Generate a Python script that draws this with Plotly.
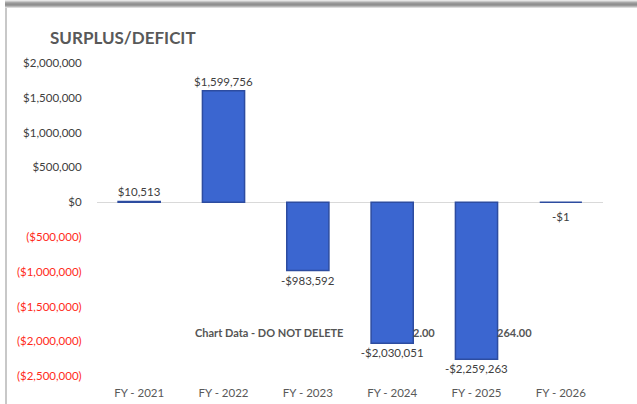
import plotly.graph_objects as go

# chart data
years = ["FY - 2021", "FY - 2022", "FY - 2023", "FY - 2024", "FY - 2025", "FY - 2026"]
surplus = [10513, 1599756, -983592, -2030051, -2259263, -1]
labels = ["$10,513", "$1,599,756", "-$983,592", "-$2,030,051", "-$2,259,263", "-$1"]

tick_vals = [2000000, 1500000, 1000000, 500000, 0, -500000, -1000000, -1500000, -2000000, -2500000]
tick_text = ["$2,000,000", "$1,500,000", "$1,000,000", "$500,000", "$0",
             "($500,000)", "($1,000,000)", "($1,500,000)", "($2,000,000)", "($2,500,000)"]

W, H = 637, 404
L, R, T, B = 97, 34, 50, 24
PW, PH = W - L - R, H - T - B


def px_x(px):
    return (px - L) / PW


def px_y(py):
    return (H - B - py) / PH


tick_colored = []
for v, t in zip(tick_vals, tick_text):
    if v < 0:
        tick_colored.append("<span style='color:#ff2a1a'>%s</span>" % t)
    else:
        tick_colored.append(t)

# the -$1 bar has no height, so plotly would put its label above the axis;
# label that one with an annotation below the zero line instead
bar_text = labels[:-1] + [""]

fig = go.Figure()
fig.add_trace(
    go.Bar(
        x=years,
        y=surplus,
        text=bar_text,
        textposition="outside",
        constraintext="none",
        cliponaxis=False,
        textfont=dict(size=11.5, color="#404040"),
        marker=dict(color="#3b66d0", line=dict(color="#2d4ca0", width=1.5)),
        width=0.5,
    )
)
fig.add_annotation(x=years[-1], y=surplus[-1], text=labels[-1], showarrow=False,
                   yshift=-14, font=dict(size=11.5, color="#404040"))

fig.update_yaxes(
    range=[-2557000, 2187000],
    tickvals=tick_vals,
    ticktext=tick_colored,
    showgrid=False,
    zeroline=True,
    zerolinecolor="#d9d9d9",
    zerolinewidth=1,
    ticks="outside",
    ticklen=12,
    tickcolor="rgba(0,0,0,0)",
    tickfont=dict(size=11.5, color="#404040"),
    automargin=False,
)
fig.update_xaxes(
    showgrid=False,
    showline=False,
    ticks="outside",
    ticklen=2,
    tickcolor="rgba(0,0,0,0)",
    tickfont=dict(size=11.5, color="#595959"),
    automargin=False,
)

# stray sheet text showing through the chart
fig.add_annotation(x=px_x(193), y=-1880000, xref="paper", yref="y", text="<b>Chart Data - DO NOT DELETE</b>",
                   showarrow=False, xanchor="left", font=dict(size=11, color="#555555"))
fig.add_annotation(x=px_x(437), y=-1880000, xref="paper", yref="y", text="<b>2.00</b>",
                   showarrow=False, xanchor="right", font=dict(size=11, color="#555555"))
fig.add_annotation(x=px_x(534), y=-1880000, xref="paper", yref="y", text="<b>264.00</b>",
                   showarrow=False, xanchor="right", font=dict(size=11, color="#555555"))

# frame: grey top band + left edge line
greys = ["#e6e6e6", "#c8c8c8", "#a8a8a8", "#979797", "#8f8f8f", "#9a9a9a", "#b8b8b8", "#dcdcdc"]
for i, g in enumerate(greys):
    fig.add_shape(type="rect", xref="paper", yref="paper",
                  x0=px_x(5), x1=px_x(W + 2), y0=px_y(i + 1), y1=px_y(i),
                  line=dict(width=0), fillcolor=g, layer="above")
fig.add_shape(type="line", xref="paper", yref="paper",
              x0=px_x(6), x1=px_x(6), y0=px_y(H + 2), y1=px_y(8),
              line=dict(color="#c8c8c8", width=2))

fig.update_layout(
    width=W,
    height=H,
    margin=dict(l=L, r=R, t=T, b=B),
    paper_bgcolor="white",
    plot_bgcolor="white",
    showlegend=False,
    font=dict(family="Lato, Open Sans, sans-serif", color="#404040"),
    title=dict(
        text="<b>SURPLUS/DEFICIT</b>",
        x=50 / W,
        xanchor="left",
        y=1 - 38 / H,
        yanchor="middle",
        font=dict(size=17, color="#595959"),
    ),
)

fig.write_html("out.html", config={"displayModeBar": False},
               post_script="document.body.style.margin='0px';")
